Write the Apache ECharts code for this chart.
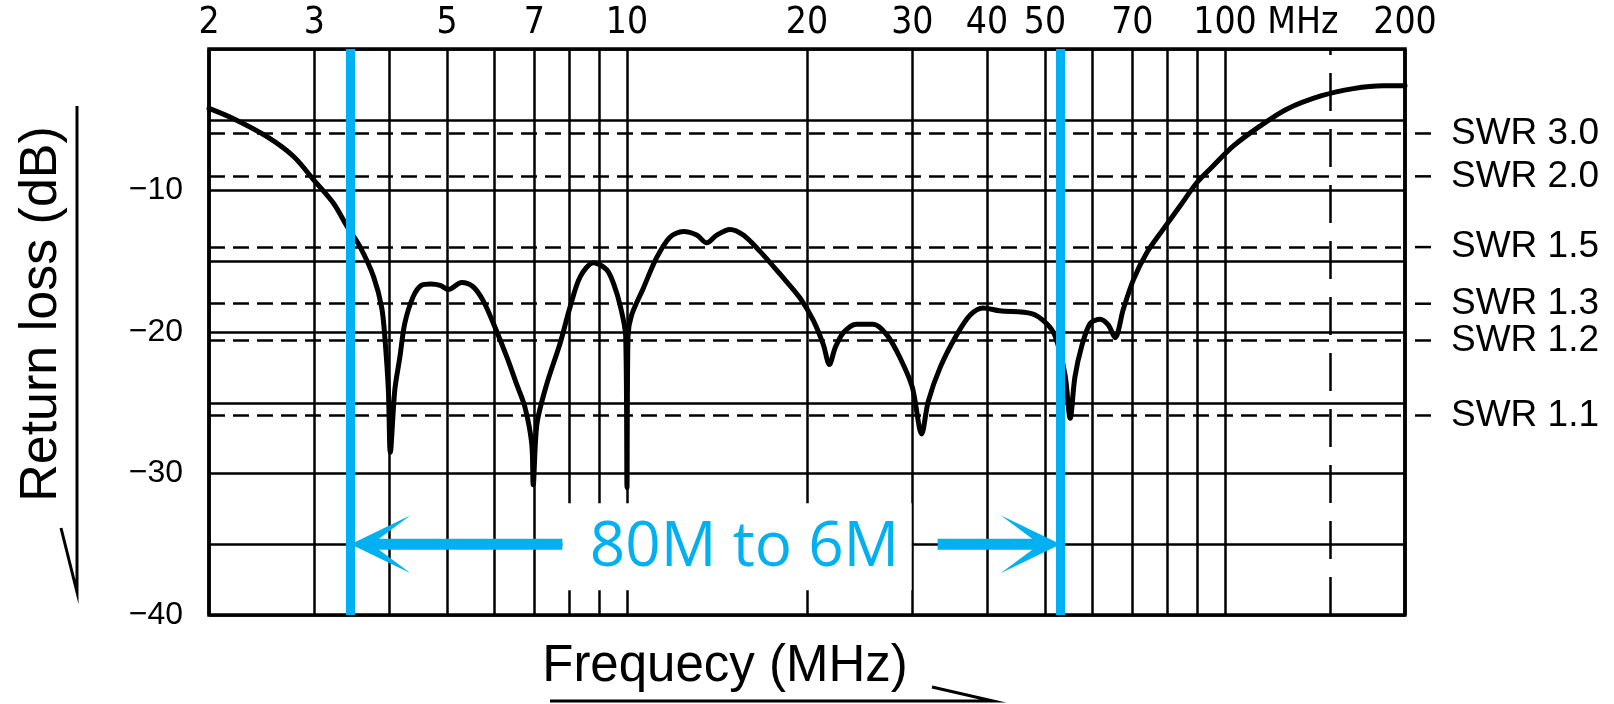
<!DOCTYPE html>
<html>
<head>
<meta charset="utf-8">
<script src="https://cdn.jsdelivr.net/npm/echarts@6/dist/echarts.min.js"></script>
<style>
html,body{margin:0;padding:0;background:#fff;}
#c{width:1614px;height:704px;}
</style>
</head>
<body>
<div id="c"></div>
<script>
// ---- data ----
const freqMHz = [
  2.0, 2.19, 2.5, 2.77, 3.0, 3.23, 3.40, 3.58, 3.77, 3.89, 3.94, 3.99, 4.02,
  4.09, 4.17, 4.25, 4.39, 4.53, 4.70, 4.87, 5.03, 5.29, 5.53, 5.75, 5.98,
  6.30, 6.54, 6.75, 6.93, 6.97, 7.07, 7.34, 7.73, 8.03, 8.35, 8.79, 9.25,
  9.50, 9.75, 9.95, 10.0, 10.04, 10.18, 10.65, 11.21, 11.80, 12.42, 13.08,
  13.59, 14.13, 14.87, 15.65, 16.69, 18.02, 19.47, 20.5, 21.3, 21.8, 22.3,
  23.0, 24.2, 25.8, 27.2, 28.6, 30.0, 31.1, 31.9, 33.4, 35.6, 37.5, 39.4,
  42.0, 47.5, 50.3, 52.0, 54.0, 55.1, 56.1, 57.6, 59.5, 61.8, 63.8, 65.5,
  67.6, 70.3, 74.0, 78.8, 84.1, 89.7, 95.6, 103.3, 114.4, 126.8, 145.1,
  163.9, 183.9, 200
];
const returnLossDb = [
  -4.2, -4.9, -6.2, -7.6, -9.3, -10.9, -12.5, -14.0, -16.1, -18.3, -20.6, -24.1, -28.5,
  -24.1, -21.8, -19.4, -17.5, -16.7, -16.6, -16.7, -17.0, -16.5, -16.8, -17.8, -19.4,
  -21.8, -23.7, -25.3, -27.9, -30.8, -26.5, -23.7, -20.8, -18.25, -16.1, -15.1, -15.6,
  -16.6, -18.2, -20.3, -31.0, -20.3, -18.8, -16.9, -14.75, -13.3, -12.9, -13.15,
  -13.7, -13.15, -12.75, -13.15, -14.3, -15.9, -17.6, -19.2, -20.9, -22.3, -21.1,
  -20.05, -19.45, -19.45, -20.2, -21.8, -23.9, -27.2, -24.9, -22.5, -20.2, -18.8, -18.3,
  -18.5, -18.7, -19.4, -20.3, -23.0, -26.1, -23.2, -21.0, -19.4, -19.1, -19.5, -20.4,
  -18.4, -16.3, -14.4, -12.75, -11.1, -9.45, -8.25, -6.85, -5.45, -4.25, -3.3,
  -2.8, -2.6, -2.6
];
const gridFreqs = [2, 3, 4, 5, 6, 7, 8, 9, 10, 20, 30, 40, 50, 60, 70, 80, 90, 100, 150, 200];
const tickLabelFreqs = [2, 3, 5, 7, 10, 20, 30, 40, 50, 70, 100, 200];
const tickLabels = ['2', '3', '5', '7', '10', '20', '30', '40', '50', '70', '100 MHz', '200'];
const swrNames = ['SWR 3.0', 'SWR 2.0', 'SWR 1.5', 'SWR 1.3', 'SWR 1.2', 'SWR 1.1'];
const swrLossDb = [-5.97, -9.0, -14.0, -18.0, -20.6, -25.9];
const bandEdgesMHz = [3.45, 53.1];
const bandLabel = '80M to 6M';
const arrowLevelDb = -35;
const xTitle = 'Frequecy (MHz)';
const yTitle = 'Return loss (dB)';

// ---- chart ----
const FONT = "'Liberation Sans', Arial, sans-serif";
const NARROW = "'Liberation Sans Narrow', 'Arial Narrow', 'DejaVu Sans Condensed', sans-serif";
const BLUE = '#00B0F0';
const chart = echarts.init(document.getElementById('c'), null, {renderer: 'canvas'});
const curveData = freqMHz.map((f, i) => [f, returnLossDb[i]]);

const vGridData = gridFreqs.map(f => {
  const li = tickLabelFreqs.indexOf(f);
  const isBorder = (f === 2 || f === 200);
  const item = {
    xAxis: f,
    lineStyle: {
      color: '#000',
      width: isBorder ? 3.5 : 2.5,
      type: f === 150 ? [38, 18] : 'solid'
    },
    label: {show: false}
  };
  if (li >= 0) {
    const txt = tickLabels[li];
    const sp = txt.indexOf(' ');
    item.label = {
      show: true,
      position: 'end',
      distance: 7,
      fontSize: 37,
      color: '#000',
      fontFamily: NARROW,
      formatter: sp > 0 ? '{h|' + txt.slice(sp) + '}' + txt : txt,
      rich: {h: {color: 'rgba(0,0,0,0)', fontSize: 37, fontFamily: NARROW}}
    };
  }
  return item;
});

const swrData = swrLossDb.map((v, i) => ({yAxis: v, name: swrNames[i]}));

chart.setOption({
  animation: false,
  textStyle: {fontFamily: FONT},
  grid: {left: 209, right: 209, top: 49, bottom: 89, show: true, borderColor: '#000', borderWidth: 3.5, backgroundColor: '#fff'},
  xAxis: {
    type: 'log', logBase: 10, min: 2, max: 200, position: 'top',
    axisLine: {show: false}, axisTick: {show: false}, axisLabel: {show: false},
    splitLine: {show: false}, minorSplitLine: {show: false}
  },
  yAxis: {
    type: 'value', min: -40, max: 0, interval: 5,
    axisLine: {show: false}, axisTick: {show: false},
    axisLabel: {
      margin: 26, fontSize: 32, color: '#000', fontFamily: FONT,
      formatter: v => (v !== 0 && v % 10 === 0) ? '\u2212' + Math.abs(v) : ''
    },
    splitLine: {show: true, lineStyle: {color: '#000', width: 2.5}}
  },
  series: [
    {
      type: 'line', data: curveData, showSymbol: false, silent: true, z: 1,
      lineStyle: {opacity: 0},
      markLine: {silent: true, symbol: ['none', 'none'], animation: false, data: vGridData}
    },
    {
      type: 'line', data: curveData, showSymbol: false, silent: true, z: 2,
      lineStyle: {opacity: 0},
      markLine: {
        silent: true, symbol: ['none', 'none'], animation: false,
        lineStyle: {color: '#000', width: 2.5, type: [16, 8]},
        label: {show: true, position: 'end', distance: 46, formatter: '{b}', fontSize: 37, color: '#000', fontFamily: FONT},
        data: swrData
      }
    },
    {
      name: 'Return loss', type: 'line', data: curveData, showSymbol: false, smooth: 0.3, z: 3,
      lineStyle: {color: '#000', width: 5, join: 'round', cap: 'round'}
    },
    {
      type: 'line', data: curveData, showSymbol: false, silent: true, z: 10,
      lineStyle: {opacity: 0},
      markLine: {
        silent: true, symbol: ['none', 'none'], animation: false,
        lineStyle: {color: BLUE, width: 9, type: 'solid'},
        label: {show: false},
        data: bandEdgesMHz.map(f => ({xAxis: f}))
      }
    }
  ]
});

// ---- annotations positioned through the axes ----
const P = (f, db) => chart.convertToPixel({xAxisIndex: 0, yAxisIndex: 0}, [f, db]);
const xL = P(bandEdgesMHz[0], arrowLevelDb)[0];
const xR = P(bandEdgesMHz[1], arrowLevelDb)[0];
const yA = P(bandEdgesMHz[0], arrowLevelDb)[1];
const plotRight = P(200, 0)[0];
const head = 60, headH = 29, notch = 21, shaftH = 11;
const boxL = xL + 212, boxW = 349, boxH = 87;
const shaftRStart = xR - 123;

const g = [];
// left arrow
g.push({type: 'rect', z: 20, shape: {x: xL + notch - 1, y: yA - shaftH / 2, width: boxL - xL - notch + 1, height: shaftH}, style: {fill: BLUE}});
g.push({type: 'polygon', z: 20, shape: {points: [[xL, yA], [xL + head, yA - headH], [xL + notch, yA], [xL + head, yA + headH]]}, style: {fill: BLUE}});
// right arrow
g.push({type: 'rect', z: 20, shape: {x: shaftRStart, y: yA - shaftH / 2, width: (xR - notch + 1) - shaftRStart, height: shaftH}, style: {fill: BLUE}});
g.push({type: 'polygon', z: 20, shape: {points: [[xR, yA], [xR - head, yA - headH], [xR - notch, yA], [xR - head, yA + headH]]}, style: {fill: BLUE}});
// label box
g.push({type: 'rect', z: 20, shape: {x: boxL, y: yA - 41, width: boxW, height: boxH}, style: {fill: '#fff'}});
g.push({type: 'text', z: 21, x: xL + 394, y: yA + 4, style: {text: bandLabel, fill: BLUE, font: "62px 'Open Sans', 'Noto Sans', sans-serif", align: 'center', verticalAlign: 'middle'}});
// SWR dash stubs outside the frame
swrLossDb.forEach(v => {
  const y = P(200, v)[1];
  g.push({type: 'line', z: 5, shape: {x1: plotRight + 10, y1: y, x2: plotRight + 26, y2: y}, style: {stroke: '#000', lineWidth: 2.5}});
});
// axis titles with arrow marks
g.push({type: 'text', z: 5, x: 42, y: 314, rotation: Math.PI / 2, style: {text: yTitle, fill: '#000', font: "52px " + FONT, align: 'center', verticalAlign: 'middle'}});
g.push({type: 'polyline', z: 5, shape: {points: [[61, 528], [77, 592], [77, 106]]}, style: {stroke: '#000', lineWidth: 3, fill: null}});
g.push({type: 'text', z: 5, x: 725, y: 667, style: {text: xTitle, fill: '#000', font: "51px " + FONT, align: 'center', verticalAlign: 'middle'}});
g.push({type: 'polyline', z: 5, shape: {points: [[550, 701], [993, 701], [932, 687]]}, style: {stroke: '#000', lineWidth: 3, fill: null}});

chart.setOption({graphic: {elements: g}});
</script>
</body>
</html>
